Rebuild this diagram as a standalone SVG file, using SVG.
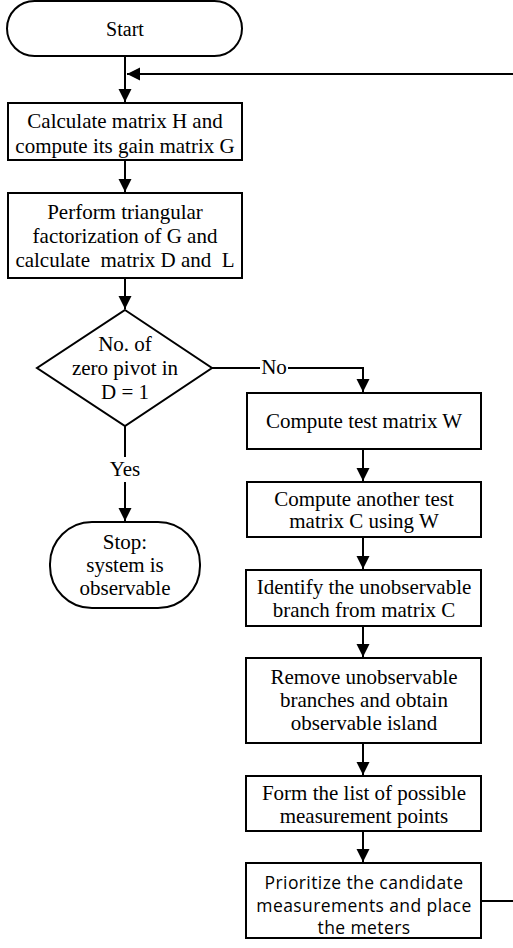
<svg xmlns="http://www.w3.org/2000/svg" width="513" height="948" viewBox="0 0 513 948">
<defs>
<marker id="ah" markerUnits="userSpaceOnUse" markerWidth="14" markerHeight="14" viewBox="0 0 14 14" refX="13" refY="7" orient="auto">
<path d="M0,0.5 L13,7 L0,13.5 Z" fill="#000"/>
</marker>
</defs>
<style>
.n{fill:#fff;stroke:#000;stroke-width:2}
.t{font-family:"Liberation Serif","Times New Roman",serif;font-size:21px;fill:#000;text-anchor:middle;dominant-baseline:central}
.s{font-family:"Open Sans","Noto Sans",sans-serif;font-size:17.5px;letter-spacing:0.4px;fill:#000;text-anchor:middle;dominant-baseline:central}
.c{fill:none;stroke:#000;stroke-width:2}
.lb{fill:#fff}
</style>
<rect width="513" height="948" fill="#fff"/>
<g id="connectors">
<path class="c" d="M125,57 V102" marker-end="url(#ah)"/>
<path class="c" d="M481,901 H520 V74 H127" marker-end="url(#ah)"/>
<path class="c" d="M125,160 V192" marker-end="url(#ah)"/>
<path class="c" d="M125,278 V309" marker-end="url(#ah)"/>
<path class="c" d="M212,368 H363 V392" marker-end="url(#ah)"/>
<path class="c" d="M125,426 V521" marker-end="url(#ah)"/>
<path class="c" d="M363,449 V481" marker-end="url(#ah)"/>
<path class="c" d="M363,537 V569" marker-end="url(#ah)"/>
<path class="c" d="M363,626 V657" marker-end="url(#ah)"/>
<path class="c" d="M363,743 V775" marker-end="url(#ah)"/>
<path class="c" d="M363,831 V862" marker-end="url(#ah)"/>
<rect class="lb" x="260" y="358" width="28" height="20"/>
<text class="t" x="274" y="367">No</text>
<rect class="lb" x="108" y="457" width="34" height="25"/>
<text class="t" x="125" y="469">Yes</text>
</g>
<g id="start">
<rect class="n" x="7" y="1" width="235" height="55" rx="27.5" ry="27.5"/>
<text class="t" x="125" y="29" style="font-size:20px">Start</text>
</g>
<g id="calcH">
<rect class="n" x="8" y="103" width="234" height="57"/>
<text class="t" x="125" y="121">Calculate matrix H and</text>
<text class="t" x="125" y="146">compute its gain matrix G</text>
</g>
<g id="factor">
<rect class="n" x="8" y="193" width="234" height="85"/>
<text class="t" x="125" y="212">Perform triangular</text>
<text class="t" x="125" y="236">factorization of G and</text>
<text class="t" x="125" y="260" xml:space="preserve">calculate  matrix D and  L</text>
</g>
<g id="decision">
<path class="n" d="M125,310 L212,368 L125,426 L37,368 Z"/>
<text class="t" x="125" y="344">No. of</text>
<text class="t" x="125" y="368">zero pivot in</text>
<text class="t" x="125" y="392">D = 1</text>
</g>
<g id="stop">
<rect class="n" x="50" y="522" width="150" height="86" rx="42" ry="42"/>
<text class="t" x="125" y="542">Stop:</text>
<text class="t" x="125" y="565">system is</text>
<text class="t" x="125" y="588">observable</text>
</g>
<g id="testW">
<rect class="n" x="247" y="393" width="234" height="56"/>
<text class="t" x="364" y="421">Compute test matrix W</text>
</g>
<g id="testC">
<rect class="n" x="247" y="482" width="234" height="55"/>
<text class="t" x="364" y="499">Compute another test</text>
<text class="t" x="364" y="521">matrix C using W</text>
</g>
<g id="identify">
<rect class="n" x="246" y="570" width="235" height="56"/>
<text class="t" x="364" y="587">Identify the unobservable</text>
<text class="t" x="364" y="610">branch from matrix C</text>
</g>
<g id="remove">
<rect class="n" x="246" y="658" width="235" height="85"/>
<text class="t" x="364" y="677">Remove unobservable</text>
<text class="t" x="364" y="700">branches and obtain</text>
<text class="t" x="364" y="723">observable island</text>
</g>
<g id="form">
<rect class="n" x="246" y="776" width="235" height="55"/>
<text class="t" x="364" y="793">Form the list of possible</text>
<text class="t" x="364" y="816">measurement points</text>
</g>
<g id="prioritize">
<rect class="n" x="246" y="863" width="235" height="75"/>
<text class="s" x="364" y="882">Prioritize the candidate</text>
<text class="s" x="364" y="905">measurements and place</text>
<text class="s" x="364" y="927">the meters</text>
</g>
</svg>
